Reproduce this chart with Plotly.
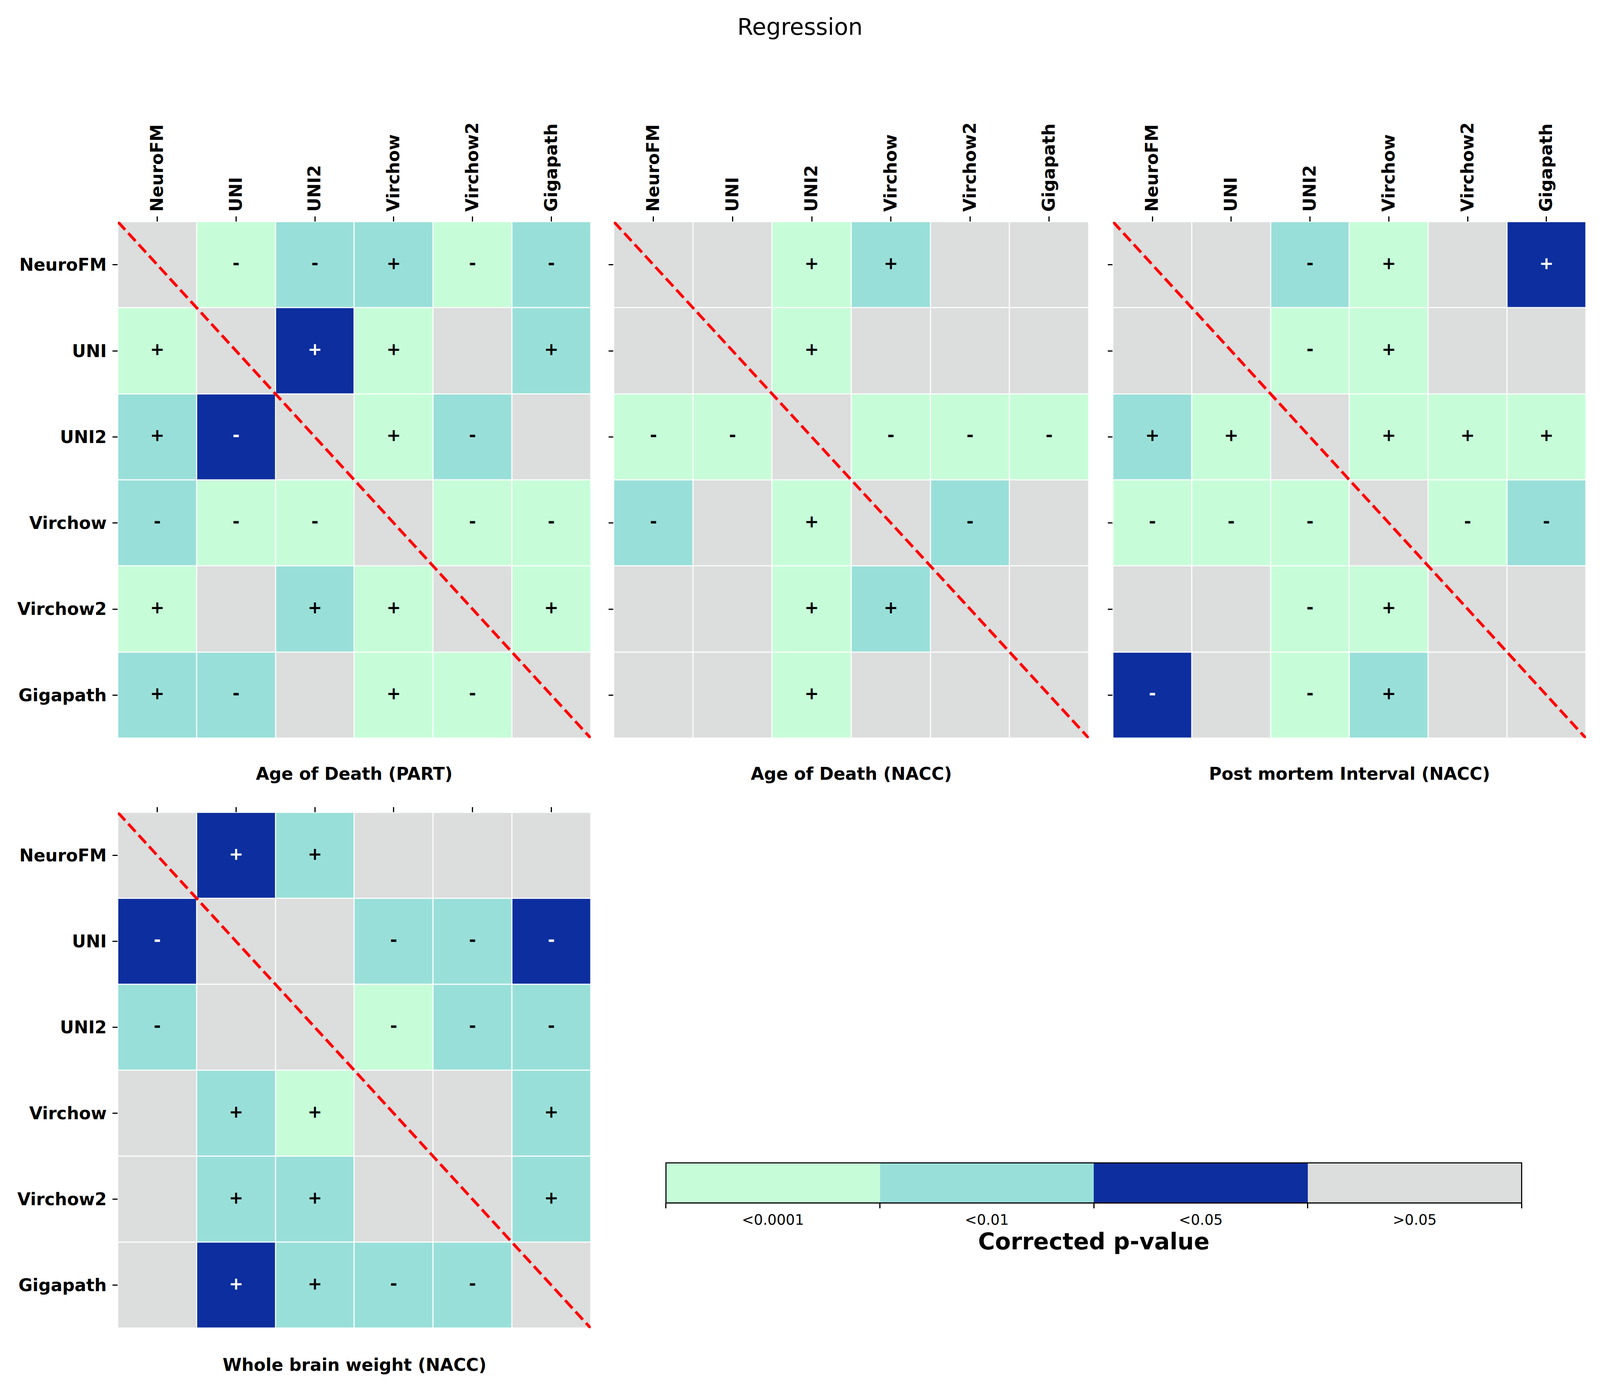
import plotly.graph_objects as go

# ---------------- data ----------------
MODELS = ["NeuroFM", "UNI", "UNI2", "Virchow", "Virchow2", "Gigapath"]
P_LABELS = ["<0.0001", "<0.01", "<0.05", ">0.05"]
P_COLORS = ["#C6FDD8", "#99DFD9", "#0C2E9E", "#DCDDDD"]
PANEL_TITLES = ["Age of Death (PART)", "Age of Death (NACC)",
                "Post mortem Interval (NACC)", "Whole brain weight (NACC)"]

# level index per cell: 0 '<0.0001', 1 '<0.01', 2 '<0.05', 3 '>0.05'
age_part_level = [[3, 0, 1, 1, 0, 1],
                  [0, 3, 2, 0, 3, 1],
                  [1, 2, 3, 0, 1, 3],
                  [1, 0, 0, 3, 0, 0],
                  [0, 3, 1, 0, 3, 0],
                  [1, 1, 3, 0, 0, 3]]
age_part_sign = [["", "-", "-", "+", "-", "-"],
                 ["+", "", "+", "+", "", "+"],
                 ["+", "-", "", "+", "-", ""],
                 ["-", "-", "-", "", "-", "-"],
                 ["+", "", "+", "+", "", "+"],
                 ["+", "-", "", "+", "-", ""]]

age_nacc_level = [[3, 3, 0, 1, 3, 3],
                  [3, 3, 0, 3, 3, 3],
                  [0, 0, 3, 0, 0, 0],
                  [1, 3, 0, 3, 1, 3],
                  [3, 3, 0, 1, 3, 3],
                  [3, 3, 0, 3, 3, 3]]
age_nacc_sign = [["", "", "+", "+", "", ""],
                 ["", "", "+", "", "", ""],
                 ["-", "-", "", "-", "-", "-"],
                 ["-", "", "+", "", "-", ""],
                 ["", "", "+", "+", "", ""],
                 ["", "", "+", "", "", ""]]

pmi_level = [[3, 3, 1, 0, 3, 2],
             [3, 3, 0, 0, 3, 3],
             [1, 0, 3, 0, 0, 0],
             [0, 0, 0, 3, 0, 1],
             [3, 3, 0, 0, 3, 3],
             [2, 3, 0, 1, 3, 3]]
pmi_sign = [["", "", "-", "+", "", "+"],
            ["", "", "-", "+", "", ""],
            ["+", "+", "", "+", "+", "+"],
            ["-", "-", "-", "", "-", "-"],
            ["", "", "-", "+", "", ""],
            ["-", "", "-", "+", "", ""]]

brain_level = [[3, 2, 1, 3, 3, 3],
               [2, 3, 3, 1, 1, 2],
               [1, 3, 3, 0, 1, 1],
               [3, 1, 0, 3, 3, 1],
               [3, 1, 1, 3, 3, 1],
               [3, 2, 1, 1, 1, 3]]
brain_sign = [["", "+", "+", "", "", ""],
              ["-", "", "", "-", "-", "-"],
              ["-", "", "", "-", "-", "-"],
              ["", "+", "+", "", "", "+"],
              ["", "+", "+", "", "", "+"],
              ["", "+", "+", "-", "-", ""]]

PANELS = [(age_part_level, age_part_sign),
          (age_nacc_level, age_nacc_sign),
          (pmi_level, pmi_sign),
          (brain_level, brain_sign)]

# ---------------- layout ----------------
K = 1 / 1.09          # pixel size scale (page renders ~1.09x)
FONT = "DejaVu Sans"
X_DOMAINS = [[0.0720, 0.3687], [0.3832, 0.6812], [0.6964, 0.9931], [0.0720, 0.3687]]
Y_DOMAINS = [[0.4688, 0.8420], [0.4688, 0.8420], [0.4688, 0.8420], [0.0424, 0.4151]]
TITLE_Y = [0.4432, 0.4432, 0.4432, 0.0160]

def px(v):
    return round(v * K, 1)

def ipx(v):
    return int(round(v * K))

n = len(P_COLORS)
colorscale = []
for i, c in enumerate(P_COLORS):
    colorscale.append([i / n, c])
    colorscale.append([(i + 1) / n, c])

fig = go.Figure()
idx = list(range(len(MODELS)))

for p, (lev, sig) in enumerate(PANELS):
    ax = "" if p == 0 else str(p + 1)
    xa, ya = "x" + ax, "y" + ax
    fig.add_trace(go.Heatmap(
        z=lev, x=idx, y=idx, colorscale=colorscale, zmin=-0.5, zmax=n - 0.5,
        showscale=False, xgap=px(3), ygap=px(3), xaxis=xa, yaxis=ya,
        customdata=[[P_LABELS[v] for v in row] for row in lev],
        hovertemplate="%{customdata}<extra></extra>"))
    tx, ty, tt, tc = [], [], [], []
    for r in idx:
        for c in idx:
            if sig[r][c]:
                tx.append(c)
                ty.append(r)
                tt.append(sig[r][c])
                tc.append("white" if lev[r][c] == 2 else "black")
    fig.add_trace(go.Scatter(
        x=tx, y=ty, text=tt, mode="text", xaxis=xa, yaxis=ya,
        textfont=dict(family=FONT, size=px(48), color=tc, weight="bold"),
        hoverinfo="skip", showlegend=False))

    show_col_labels = p < 3
    show_row_labels = p in (0, 3)
    fig.layout["xaxis" + ax] = dict(
        domain=X_DOMAINS[p], anchor=ya, side="top", range=[-0.5, 5.5],
        tickmode="array", tickvals=idx, ticktext=MODELS,
        showticklabels=show_col_labels, tickangle=-90,
        ticks="outside", ticklen=px(14), tickwidth=px(3), tickcolor="black",
        ticklabelstandoff=ipx(3),
        tickfont=dict(family=FONT, size=px(48), color="black", weight="bold"),
        showgrid=False, zeroline=False, showline=False, fixedrange=True)
    fig.layout["yaxis" + ax] = dict(
        domain=Y_DOMAINS[p], anchor=xa, range=[5.5, -0.5],
        tickmode="array", tickvals=idx, ticktext=MODELS,
        showticklabels=show_row_labels,
        ticks="outside", ticklen=px(14), tickwidth=px(3), tickcolor="black",
        ticklabelstandoff=ipx(6),
        tickfont=dict(family=FONT, size=px(48), color="black", weight="bold"),
        showgrid=False, zeroline=False, showline=False, fixedrange=True)
    fig.add_shape(type="line", xref=xa, yref=ya, x0=-0.5, y0=-0.5, x1=5.5, y1=5.5,
                  line=dict(color="#FF0000", width=px(8),
                            dash=f"{px(30)}px,{px(13)}px"))
    fig.add_annotation(text=PANEL_TITLES[p], xref=xa + " domain", x=0.5,
                       yref="paper", y=TITLE_Y[p], showarrow=False,
                       xanchor="center", yanchor="middle",
                       font=dict(family=FONT, size=px(48), color="black", weight="bold"))

# ---------------- legend bar (categorical colour key) ----------------
cidx = list(range(n))
fig.add_trace(go.Heatmap(
    z=[cidx], x=cidx, y=[0], colorscale=colorscale, zmin=-0.5, zmax=n - 0.5,
    showscale=False, xaxis="x5", yaxis="y5",
    customdata=[P_LABELS], hovertemplate="%{customdata}<extra></extra>"))
fig.layout["xaxis5"] = dict(
    domain=[0.4159, 0.9528], anchor="y5", range=[-0.5, n - 0.5],
    tickmode="array", tickvals=cidx, ticktext=P_LABELS, ticks="",
    ticklabelstandoff=ipx(20),
    minor=dict(tickmode="array", tickvals=[i - 0.5 for i in range(n + 1)],
               ticks="outside", ticklen=px(14), tickwidth=px(3), tickcolor="black",
               showgrid=False),
    tickfont=dict(family=FONT, size=px(40), color="black"),
    title=dict(text="Corrected p-value", standoff=ipx(8),
               font=dict(family=FONT, size=px(64), color="black", weight="bold")),
    showgrid=False, zeroline=False, showline=False, fixedrange=True)
fig.layout["yaxis5"] = dict(
    domain=[0.1329, 0.1619], anchor="x5", range=[-0.5, 0.5],
    showticklabels=False, ticks="", showgrid=False, zeroline=False,
    showline=False, fixedrange=True)
fig.add_shape(type="rect", xref="x5 domain", yref="y5 domain", x0=0, x1=1, y0=0, y1=1,
              line=dict(color="black", width=px(3)), fillcolor="rgba(0,0,0,0)")

fig.update_layout(
    autosize=True,
    margin=dict(l=0, r=0, t=0, b=0),
    paper_bgcolor="white", plot_bgcolor="white",
    showlegend=False,
    title=dict(text="Regression", x=0.5, xanchor="center", y=0.983, yanchor="middle",
               font=dict(family=FONT, size=px(64), color="black")),
)

fig.write_html("out.html", default_width="100%",
               default_height="calc(100vh - 16px)")
